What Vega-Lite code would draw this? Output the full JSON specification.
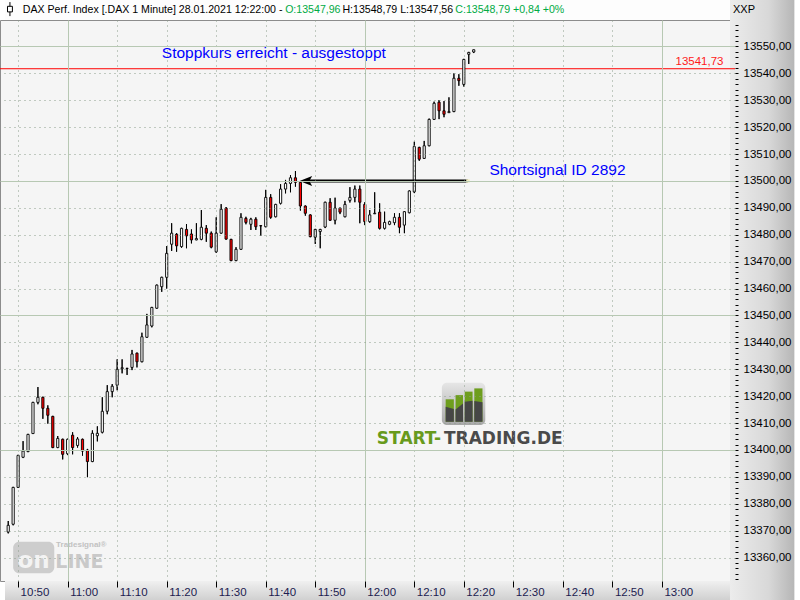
{
"$schema": "https://vega.github.io/schema/vega-lite/v6.json",
"width": 735, "height": 561,
"autosize": {"type": "none"},
"padding": {"left": 0, "top": 20, "right": 65, "bottom": 19},
"background": "#ffffff",
"config": {"view": {"fill": "#f5f5f5", "stroke": "#8c8c8c", "strokeWidth": 1}, "text": {"font": "Liberation Sans"}, "axis": {"labelFont": "Liberation Sans"}},
"datasets": {
"header": [{"t1": "2021-01-28T10:47:21", "t2": "2021-01-28T13:13:45", "v1": 13559.85, "v2": 13567.3}],
"rightcol": [{"t1": "2021-01-28T13:13:45", "t2": "2021-01-28T13:26:45", "v1": 13344.2, "v2": 13567.3}],
"bottomband": [{"t1": "2021-01-28T10:47:21", "t2": "2021-01-28T13:13:45", "v1": 13344.2, "v2": 13351.3}],
"stop": [{"v": 13541.73}],
"arrow": [{"t1": "2021-01-28T11:48:06", "t2": "2021-01-28T12:20:50", "v": 13500}],
"icon": [{"t1": "2021-01-28T12:15:34", "t2": "2021-01-28T12:24:20", "v1": 13409.29, "v2": 13425.02}],
"iconbars": [
  {"bar": 1, "t1": "2021-01-28T12:16:20", "t2": "2021-01-28T12:17:59", "v1": 13410.52, "v2": 13418.85},
  {"bar": 2, "t1": "2021-01-28T12:18:20", "t2": "2021-01-28T12:19:50", "v1": 13410.52, "v2": 13420.4},
  {"bar": 3, "t1": "2021-01-28T12:20:11", "t2": "2021-01-28T12:21:46", "v1": 13410.52, "v2": 13421.7},
  {"bar": 4, "t1": "2021-01-28T12:22:07", "t2": "2021-01-28T12:23:46", "v1": 13410.52, "v2": 13422.9}],
"icondark": [
  {"bar": 1, "t": "2021-01-28T12:16:20", "v": 13416.1, "b": 13410.52}, {"bar": 1, "t": "2021-01-28T12:17:59", "v": 13415.24, "b": 13410.52},
  {"bar": 2, "t": "2021-01-28T12:18:20", "v": 13415.06, "b": 13410.52}, {"bar": 2, "t": "2021-01-28T12:19:50", "v": 13417.25, "b": 13410.52},
  {"bar": 3, "t": "2021-01-28T12:20:11", "v": 13417.92, "b": 13410.52}, {"bar": 3, "t": "2021-01-28T12:21:46", "v": 13418.33, "b": 13410.52},
  {"bar": 4, "t": "2021-01-28T12:22:07", "v": 13418.25, "b": 13410.52}, {"bar": 4, "t": "2021-01-28T12:23:46", "v": 13417.73, "b": 13410.52}],
"badge": [{"t1": "2021-01-28T10:49:00", "t2": "2021-01-28T10:57:18", "v1": 13354.2, "v2": 13365.9}]
},
"data": {"values": [
{"t":"2021-01-28T10:48:00","o":13369.5,"h":13373.6,"l":13369.0,"c":13372.0},
{"t":"2021-01-28T10:49:00","o":13372.4,"h":13386.3,"l":13372.0,"c":13386.1},
{"t":"2021-01-28T10:50:00","o":13386.1,"h":13398.2,"l":13386.0,"c":13398.0},
{"t":"2021-01-28T10:51:00","o":13397.3,"h":13403.3,"l":13397.0,"c":13399.6},
{"t":"2021-01-28T10:52:00","o":13399.4,"h":13406.0,"l":13399.2,"c":13405.8},
{"t":"2021-01-28T10:53:00","o":13406.1,"h":13417.9,"l":13406.0,"c":13417.7},
{"t":"2021-01-28T10:54:00","o":13417.7,"h":13423.4,"l":13417.0,"c":13419.6},
{"t":"2021-01-28T10:55:00","o":13419.6,"h":13419.8,"l":13411.6,"c":13415.5},
{"t":"2021-01-28T10:56:00","o":13415.5,"h":13416.6,"l":13409.8,"c":13412.9},
{"t":"2021-01-28T10:57:00","o":13412.5,"h":13412.7,"l":13400.7,"c":13400.9},
{"t":"2021-01-28T10:58:00","o":13400.9,"h":13405.2,"l":13400.7,"c":13404.3},
{"t":"2021-01-28T10:59:00","o":13404.0,"h":13404.2,"l":13396.5,"c":13398.4},
{"t":"2021-01-28T11:00:00","o":13398.6,"h":13404.2,"l":13398.1,"c":13404.0},
{"t":"2021-01-28T11:01:00","o":13405.5,"h":13406.6,"l":13398.4,"c":13400.9},
{"t":"2021-01-28T11:02:00","o":13401.7,"h":13404.8,"l":13400.9,"c":13404.1},
{"t":"2021-01-28T11:03:00","o":13404.0,"h":13404.2,"l":13397.9,"c":13399.6},
{"t":"2021-01-28T11:04:00","o":13400.0,"h":13400.4,"l":13389.9,"c":13395.7},
{"t":"2021-01-28T11:05:00","o":13395.7,"h":13407.3,"l":13395.5,"c":13406.2},
{"t":"2021-01-28T11:06:00","o":13405.3,"h":13408.8,"l":13403.2,"c":13406.2},
{"t":"2021-01-28T11:07:00","o":13406.6,"h":13419.6,"l":13406.2,"c":13414.4},
{"t":"2021-01-28T11:08:00","o":13414.4,"h":13424.1,"l":13413.3,"c":13421.7},
{"t":"2021-01-28T11:09:00","o":13421.7,"h":13424.5,"l":13419.6,"c":13423.7},
{"t":"2021-01-28T11:10:00","o":13424.1,"h":13433.7,"l":13422.2,"c":13430.0},
{"t":"2021-01-28T11:11:00","o":13430.2,"h":13433.7,"l":13428.5,"c":13430.6},
{"t":"2021-01-28T11:12:00","o":13430.4,"h":13430.5,"l":13427.9,"c":13430.3},
{"t":"2021-01-28T11:13:00","o":13430.7,"h":13437.2,"l":13429.7,"c":13435.7},
{"t":"2021-01-28T11:14:00","o":13436.0,"h":13436.2,"l":13430.7,"c":13432.8},
{"t":"2021-01-28T11:15:00","o":13432.8,"h":13443.6,"l":13432.6,"c":13442.1},
{"t":"2021-01-28T11:16:00","o":13441.9,"h":13450.6,"l":13441.7,"c":13446.5},
{"t":"2021-01-28T11:17:00","o":13446.1,"h":13453.2,"l":13445.6,"c":13453.0},
{"t":"2021-01-28T11:18:00","o":13452.7,"h":13461.5,"l":13452.5,"c":13461.3},
{"t":"2021-01-28T11:19:00","o":13460.7,"h":13464.4,"l":13458.8,"c":13464.2},
{"t":"2021-01-28T11:20:00","o":13464.2,"h":13475.8,"l":13460.0,"c":13473.1},
{"t":"2021-01-28T11:21:00","o":13476.5,"h":13484.3,"l":13474.0,"c":13480.6},
{"t":"2021-01-28T11:22:00","o":13480.2,"h":13480.6,"l":13473.7,"c":13475.9},
{"t":"2021-01-28T11:23:00","o":13475.6,"h":13482.6,"l":13475.2,"c":13482.4},
{"t":"2021-01-28T11:24:00","o":13482.0,"h":13484.0,"l":13475.0,"c":13479.6},
{"t":"2021-01-28T11:25:00","o":13480.3,"h":13482.0,"l":13476.8,"c":13478.1},
{"t":"2021-01-28T11:26:00","o":13478.1,"h":13484.3,"l":13478.0,"c":13478.6},
{"t":"2021-01-28T11:27:00","o":13478.3,"h":13489.2,"l":13478.0,"c":13482.8},
{"t":"2021-01-28T11:28:00","o":13482.4,"h":13483.6,"l":13477.4,"c":13480.6},
{"t":"2021-01-28T11:29:00","o":13480.6,"h":13481.2,"l":13475.0,"c":13475.4},
{"t":"2021-01-28T11:30:00","o":13473.7,"h":13486.5,"l":13473.3,"c":13480.6},
{"t":"2021-01-28T11:31:00","o":13480.6,"h":13491.4,"l":13480.4,"c":13489.5},
{"t":"2021-01-28T11:32:00","o":13489.9,"h":13490.3,"l":13478.2,"c":13478.4},
{"t":"2021-01-28T11:33:00","o":13478.3,"h":13478.5,"l":13470.2,"c":13470.4},
{"t":"2021-01-28T11:34:00","o":13470.4,"h":13475.4,"l":13470.2,"c":13474.6},
{"t":"2021-01-28T11:35:00","o":13474.6,"h":13488.0,"l":13474.4,"c":13486.5},
{"t":"2021-01-28T11:36:00","o":13486.1,"h":13486.7,"l":13483.9,"c":13484.6},
{"t":"2021-01-28T11:37:00","o":13483.9,"h":13486.3,"l":13481.8,"c":13485.8},
{"t":"2021-01-28T11:38:00","o":13485.8,"h":13486.5,"l":13481.8,"c":13483.0},
{"t":"2021-01-28T11:39:00","o":13483.4,"h":13483.6,"l":13479.6,"c":13483.3},
{"t":"2021-01-28T11:40:00","o":13483.0,"h":13496.7,"l":13482.8,"c":13493.9},
{"t":"2021-01-28T11:41:00","o":13493.9,"h":13495.1,"l":13486.0,"c":13486.5},
{"t":"2021-01-28T11:42:00","o":13486.7,"h":13491.5,"l":13486.5,"c":13491.3},
{"t":"2021-01-28T11:43:00","o":13491.7,"h":13498.8,"l":13491.3,"c":13497.0},
{"t":"2021-01-28T11:44:00","o":13497.0,"h":13500.4,"l":13495.4,"c":13499.1},
{"t":"2021-01-28T11:45:00","o":13499.1,"h":13502.2,"l":13495.8,"c":13501.2},
{"t":"2021-01-28T11:46:00","o":13501.2,"h":13503.7,"l":13497.9,"c":13499.5},
{"t":"2021-01-28T11:47:00","o":13499.5,"h":13499.7,"l":13489.0,"c":13490.7},
{"t":"2021-01-28T11:48:00","o":13490.7,"h":13490.9,"l":13487.1,"c":13488.0},
{"t":"2021-01-28T11:49:00","o":13487.4,"h":13487.6,"l":13479.1,"c":13479.3},
{"t":"2021-01-28T11:50:00","o":13479.1,"h":13482.2,"l":13476.6,"c":13482.0},
{"t":"2021-01-28T11:51:00","o":13481.2,"h":13482.2,"l":13475.0,"c":13482.0},
{"t":"2021-01-28T11:52:00","o":13482.9,"h":13492.3,"l":13482.5,"c":13492.1},
{"t":"2021-01-28T11:53:00","o":13492.1,"h":13493.6,"l":13485.2,"c":13485.4},
{"t":"2021-01-28T11:54:00","o":13485.4,"h":13493.8,"l":13483.9,"c":13489.9},
{"t":"2021-01-28T11:55:00","o":13489.9,"h":13490.1,"l":13487.7,"c":13488.4},
{"t":"2021-01-28T11:56:00","o":13486.7,"h":13492.6,"l":13486.5,"c":13491.3},
{"t":"2021-01-28T11:57:00","o":13492.8,"h":13497.7,"l":13492.0,"c":13493.9},
{"t":"2021-01-28T11:58:00","o":13493.9,"h":13498.3,"l":13492.1,"c":13497.0},
{"t":"2021-01-28T11:59:00","o":13497.0,"h":13498.3,"l":13484.3,"c":13492.1},
{"t":"2021-01-28T12:00:00","o":13491.3,"h":13492.1,"l":13483.6,"c":13484.9},
{"t":"2021-01-28T12:01:00","o":13484.9,"h":13489.2,"l":13484.5,"c":13487.4},
{"t":"2021-01-28T12:02:00","o":13487.8,"h":13495.8,"l":13487.8,"c":13488.0},
{"t":"2021-01-28T12:03:00","o":13488.4,"h":13491.7,"l":13482.0,"c":13482.4},
{"t":"2021-01-28T12:04:00","o":13482.4,"h":13488.6,"l":13482.0,"c":13484.6},
{"t":"2021-01-28T12:05:00","o":13483.9,"h":13485.2,"l":13483.6,"c":13484.9},
{"t":"2021-01-28T12:06:00","o":13484.5,"h":13488.0,"l":13483.6,"c":13486.5},
{"t":"2021-01-28T12:07:00","o":13486.5,"h":13488.0,"l":13480.6,"c":13482.8},
{"t":"2021-01-28T12:08:00","o":13483.6,"h":13488.8,"l":13480.6,"c":13488.6},
{"t":"2021-01-28T12:09:00","o":13488.2,"h":13496.5,"l":13488.0,"c":13496.3},
{"t":"2021-01-28T12:10:00","o":13496.0,"h":13514.6,"l":13495.5,"c":13512.8},
{"t":"2021-01-28T12:11:00","o":13512.5,"h":13512.7,"l":13507.5,"c":13508.1},
{"t":"2021-01-28T12:12:00","o":13508.4,"h":13514.9,"l":13508.2,"c":13513.1},
{"t":"2021-01-28T12:13:00","o":13513.1,"h":13523.2,"l":13512.9,"c":13522.9},
{"t":"2021-01-28T12:14:00","o":13522.9,"h":13529.5,"l":13522.7,"c":13528.9},
{"t":"2021-01-28T12:15:00","o":13529.3,"h":13530.1,"l":13523.0,"c":13526.1},
{"t":"2021-01-28T12:16:00","o":13526.1,"h":13529.7,"l":13523.7,"c":13524.8},
{"t":"2021-01-28T12:17:00","o":13525.4,"h":13531.1,"l":13525.4,"c":13525.8},
{"t":"2021-01-28T12:18:00","o":13525.8,"h":13540.0,"l":13525.6,"c":13538.2},
{"t":"2021-01-28T12:19:00","o":13538.2,"h":13539.7,"l":13535.4,"c":13537.3},
{"t":"2021-01-28T12:20:00","o":13535.9,"h":13545.4,"l":13535.1,"c":13545.2},
{"t":"2021-01-28T12:21:00","o":13547.1,"h":13548.0,"l":13543.5,"c":13547.8},
{"t":"2021-01-28T12:22:00","o":13547.96,"h":13548.79,"l":13547.56,"c":13548.79}
]},
"layer": [
{"mark": {"type": "rule", "color": "#000000", "strokeWidth": 1},
 "encoding": {
  "x": {"field": "t", "type": "temporal",
   "scale": {"domain": [{"year":2021,"month":1,"date":28,"hours":10,"minutes":47,"seconds":21}, {"year":2021,"month":1,"date":28,"hours":13,"minutes":13,"seconds":45}], "nice": false},
   "axis": {"orient": "bottom", "title": null, "domain": false, "zindex": 1, "format": "%H:%M", "tickCount": 1000,
    "values": [{"year":2021,"month":1,"date":28,"hours":10,"minutes":50},{"year":2021,"month":1,"date":28,"hours":11,"minutes":0},{"year":2021,"month":1,"date":28,"hours":11,"minutes":10},{"year":2021,"month":1,"date":28,"hours":11,"minutes":20},{"year":2021,"month":1,"date":28,"hours":11,"minutes":30},{"year":2021,"month":1,"date":28,"hours":11,"minutes":40},{"year":2021,"month":1,"date":28,"hours":11,"minutes":50},{"year":2021,"month":1,"date":28,"hours":12,"minutes":0},{"year":2021,"month":1,"date":28,"hours":12,"minutes":10},{"year":2021,"month":1,"date":28,"hours":12,"minutes":20},{"year":2021,"month":1,"date":28,"hours":12,"minutes":30},{"year":2021,"month":1,"date":28,"hours":12,"minutes":40},{"year":2021,"month":1,"date":28,"hours":12,"minutes":50},{"year":2021,"month":1,"date":28,"hours":13,"minutes":0}],
    "labelAlign": "left", "labelOffset": 2, "labelBaseline": "middle", "labelPadding": 5, "labelFontSize": 11.5, "labelColor": "#1c1c50", "labelFlush": false, "labelOverlap": false,
    "tickColor": "#000000", "tickSize": 6, "tickWidth": 1,
    "grid": true,
    "gridColor": {"condition": {"test": "minutes(datum.value) === 0", "value": "#b7c8b3"}, "value": "#8a9c8a"},
    "gridDash": {"condition": {"test": "minutes(datum.value) === 0", "value": []}, "value": [1, 4]}}},
  "y": {"field": "l", "type": "quantitative",
   "scale": {"domain": [13351.3, 13559.85], "nice": false, "zero": false},
   "axis": {"orient": "right", "title": null, "domain": false, "zindex": 1, "tickCount": 1000,
    "values": [13352,13354,13356,13358,13360,13362,13364,13366,13368,13370,13372,13374,13376,13378,13380,13382,13384,13386,13388,13390,13392,13394,13396,13398,13400,13402,13404,13406,13408,13410,13412,13414,13416,13418,13420,13422,13424,13426,13428,13430,13432,13434,13436,13438,13440,13442,13444,13446,13448,13450,13452,13454,13456,13458,13460,13462,13464,13466,13468,13470,13472,13474,13476,13478,13480,13482,13484,13486,13488,13490,13492,13494,13496,13498,13500,13502,13504,13506,13508,13510,13512,13514,13516,13518,13520,13522,13524,13526,13528,13530,13532,13534,13536,13538,13540,13542,13544,13546,13548,13550,13552,13554,13556,13558],
    "labelExpr": "datum.value % 10 === 0 ? replace(format(datum.value, '.2f'), '.', ',') : ''",
    "labelFontSize": 11.5, "labelColor": "#000000", "labelPadding": 5, "labelOverlap": false, "labelFlush": false,
    "tickColor": "#000000", "tickWidth": 1, "tickSize": 3,
    "grid": true,
    "gridColor": {"condition": {"test": "datum.value % 50 === 0", "value": "#b7c8b3"}, "value": "#8a9c8a"},
    "gridDash": {"condition": {"test": "datum.value % 50 === 0", "value": []}, "value": [1, 4]},
    "gridOpacity": {"condition": {"test": "datum.value % 10 === 0", "value": 1}, "value": 0}}},
  "y2": {"field": "h"}}},
{"data": {"name": "header"}, "mark": {"type": "rect", "fill": "#fdfdfd"},
 "encoding": {"x": {"field": "t1", "type": "temporal"}, "x2": {"field": "t2"},
  "y": {"field": "v1", "type": "quantitative"}, "y2": {"field": "v2"}}},
{"data": {"name": "rightcol"}, "mark": {"type": "rect", "fill": {"gradient": "linear", "x1": 0, "y1": 0, "x2": 1, "y2": 0, "stops": [{"offset": 0, "color": "#ececec"}, {"offset": 0.6, "color": "#d8d8d8"}, {"offset": 1, "color": "#b6b6b6"}]}},
 "encoding": {"x": {"field": "t1", "type": "temporal"}, "x2": {"field": "t2"},
  "y": {"field": "v1", "type": "quantitative"}, "y2": {"field": "v2"}}},
{"data": {"name": "bottomband"}, "mark": {"type": "rect", "fill": {"gradient": "linear", "x1": 0, "y1": 0, "x2": 0, "y2": 1, "stops": [{"offset": 0, "color": "#f0f0f0"}, {"offset": 1, "color": "#d0d0d0"}]}},
 "encoding": {"x": {"field": "t1", "type": "temporal"}, "x2": {"field": "t2"},
  "y": {"field": "v1", "type": "quantitative"}, "y2": {"field": "v2"}}},
{"data": {"name": "stop"}, "mark": {"type": "rule", "color": "#ff0000", "strokeWidth": 1},
 "encoding": {"y": {"field": "v", "type": "quantitative"}}},
{"mark": {"type": "rule", "color": "#000000", "strokeWidth": 1},
 "encoding": {"x": {"field": "t", "type": "temporal"}, "y": {"field": "l", "type": "quantitative"}, "y2": {"field": "h"}}},
{"mark": {"type": "bar", "width": 2.2, "stroke": "#000000", "strokeWidth": 0.9},
 "encoding": {
  "x": {"field": "t", "type": "temporal"},
  "y": {"field": "o", "type": "quantitative"},
  "y2": {"field": "c"},
  "fill": {"condition": {"test": "datum.c < datum.o", "value": "#ff0000"}, "value": "#ffffff"}}},
{"data": {"name": "arrow"}, "mark": {"type": "rule", "color": "#000000", "strokeWidth": 3},
 "encoding": {"x": {"field": "t1", "type": "temporal"}, "x2": {"field": "t2"},
  "y": {"field": "v", "type": "quantitative"}}},
{"data": {"name": "arrow"}, "mark": {"type": "point", "shape": "M-1,0L1,-0.8L0.55,0L1,0.8Z", "filled": true, "fill": "#000000", "opacity": 1, "size": 160, "strokeWidth": 0},
 "encoding": {"x": {"field": "t1", "type": "temporal"},
  "y": {"field": "v", "type": "quantitative"}}},
{"data": {"name": "arrow"}, "mark": {"type": "point", "shape": "square", "filled": true, "fill": "#f2efc4", "opacity": 1, "size": 12, "strokeWidth": 0},
 "encoding": {"x": {"field": "t2", "type": "temporal"},
  "y": {"field": "v", "type": "quantitative"}}},
{"data": {"values": [{}]}, "mark": {"type": "text", "align": "left", "baseline": "middle", "fontSize": 15.5, "color": "#0000ff"},
 "encoding": {"x": {"datum": {"year":2021,"month":1,"date":28,"hours":11,"minutes":19,"seconds":1}, "type": "temporal"},
  "y": {"datum": 13547.6, "type": "quantitative"}, "text": {"value": "Stoppkurs erreicht - ausgestoppt"}}},
{"data": {"values": [{}]}, "mark": {"type": "text", "align": "left", "baseline": "middle", "fontSize": 15.5, "color": "#0000ff"},
 "encoding": {"x": {"datum": {"year":2021,"month":1,"date":28,"hours":12,"minutes":25,"seconds":10}, "type": "temporal"},
  "y": {"datum": 13504.1, "type": "quantitative"}, "text": {"value": "Shortsignal ID 2892"}}},
{"data": {"values": [{}]}, "mark": {"type": "text", "align": "left", "baseline": "middle", "fontSize": 11.5, "color": "#ff1a1a"},
 "encoding": {"x": {"datum": {"year":2021,"month":1,"date":28,"hours":13,"minutes":2,"seconds":45}, "type": "temporal"},
  "y": {"datum": 13544.4, "type": "quantitative"}, "text": {"value": "13541,73"}}},
{"data": {"values": [{}]}, "mark": {"type": "text", "align": "left", "baseline": "middle", "fontSize": 11, "color": "#000000"},
 "encoding": {"x": {"datum": {"year":2021,"month":1,"date":28,"hours":13,"minutes":14,"seconds":21}, "type": "temporal"},
  "y": {"datum": 13563.6, "type": "quantitative"}, "text": {"value": "XXP"}}},
{"data": {"values": [{}]}, "mark": {"type": "point", "shape": "M0,-1L0,-0.4M-0.35,-0.4L0.35,-0.4L0.35,0.4L-0.35,0.4ZM0,0.4L0,1", "filled": false, "stroke": "#000000", "strokeWidth": 1, "opacity": 1, "size": 196},
 "encoding": {"x": {"datum": {"year":2021,"month":1,"date":28,"hours":10,"minutes":48,"seconds":21}, "type": "temporal"},
  "y": {"datum": 13563.9, "type": "quantitative"}}},
{"data": {"values": [{}]}, "mark": {"type": "text", "align": "left", "baseline": "middle", "fontSize": 10.6, "color": "#000000"},
 "encoding": {"x": {"datum": {"year":2021,"month":1,"date":28,"hours":10,"minutes":50,"seconds":56}, "type": "temporal"},
  "y": {"datum": 13563.6, "type": "quantitative"}, "text": {"value": "DAX Perf. Index [.DAX  1 Minute] 28.01.2021 12:22:00 -"}}},
{"data": {"values": [{}]}, "mark": {"type": "text", "align": "left", "baseline": "middle", "fontSize": 10.6, "color": "#00aa44"},
 "encoding": {"x": {"datum": {"year":2021,"month":1,"date":28,"hours":11,"minutes":43,"seconds":55}, "type": "temporal"},
  "y": {"datum": 13563.6, "type": "quantitative"}, "text": {"value": "O:13547,96"}}},
{"data": {"values": [{}]}, "mark": {"type": "text", "align": "left", "baseline": "middle", "fontSize": 10.6, "color": "#000000"},
 "encoding": {"x": {"datum": {"year":2021,"month":1,"date":28,"hours":11,"minutes":55,"seconds":29}, "type": "temporal"},
  "y": {"datum": 13563.6, "type": "quantitative"}, "text": {"value": "H:13548,79 L:13547,56"}}},
{"data": {"values": [{}]}, "mark": {"type": "text", "align": "left", "baseline": "middle", "fontSize": 10.6, "color": "#00aa44"},
 "encoding": {"x": {"datum": {"year":2021,"month":1,"date":28,"hours":12,"minutes":18,"seconds":17}, "type": "temporal"},
  "y": {"datum": 13563.6, "type": "quantitative"}, "text": {"value": "C:13548,79 +0,84 +0%"}}},
{"data": {"name": "icon"}, "mark": {"type": "rect", "cornerRadius": 5, "fill": {"gradient": "linear", "x1": 0, "y1": 0, "x2": 0, "y2": 1, "stops": [{"offset": 0, "color": "#e6e6e6"}, {"offset": 1, "color": "#a8a8a8"}]}},
 "encoding": {"x": {"field": "t1", "type": "temporal"}, "x2": {"field": "t2"},
  "y": {"field": "v1", "type": "quantitative"}, "y2": {"field": "v2"}}},
{"data": {"name": "iconbars"}, "mark": {"type": "rect", "fill": "#6e9e1e"},
 "encoding": {"x": {"field": "t1", "type": "temporal"}, "x2": {"field": "t2"},
  "y": {"field": "v1", "type": "quantitative"}, "y2": {"field": "v2"}}},
{"data": {"name": "icondark"}, "mark": {"type": "area", "fill": "#464646", "opacity": 1},
 "encoding": {"x": {"field": "t", "type": "temporal"},
  "y": {"field": "v", "type": "quantitative"}, "y2": {"field": "b"},
  "detail": {"field": "bar", "type": "nominal"}}},
{"data": {"values": [{}]}, "mark": {"type": "text", "align": "right", "baseline": "middle", "font": "DejaVu Sans", "fontWeight": "bold", "fontSize": 17, "color": "#689a1c"},
 "encoding": {"x": {"datum": {"year":2021,"month":1,"date":28,"hours":12,"minutes":15,"seconds":24}, "type": "temporal"},
  "y": {"datum": 13404, "type": "quantitative"}, "text": {"value": "START-"}}},
{"data": {"values": [{}]}, "mark": {"type": "text", "align": "left", "baseline": "middle", "font": "DejaVu Sans", "fontWeight": "bold", "fontSize": 17, "color": "#4a4a4a"},
 "encoding": {"x": {"datum": {"year":2021,"month":1,"date":28,"hours":12,"minutes":16,"seconds":0}, "type": "temporal"},
  "y": {"datum": 13404, "type": "quantitative"}, "text": {"value": "TRADING.DE"}}},
{"data": {"name": "badge"}, "mark": {"type": "rect", "cornerRadius": 6, "fill": "#cdcdcd"},
 "encoding": {"x": {"field": "t1", "type": "temporal"}, "x2": {"field": "t2"},
  "y": {"field": "v1", "type": "quantitative"}, "y2": {"field": "v2"}}},
{"data": {"values": [{}]}, "mark": {"type": "text", "align": "center", "baseline": "alphabetic", "font": "DejaVu Sans", "fontWeight": "bold", "fontSize": 23, "color": "#f3f3f3"},
 "encoding": {"x": {"datum": {"year":2021,"month":1,"date":28,"hours":10,"minutes":53,"seconds":8}, "type": "temporal"},
  "y": {"datum": 13356.1, "type": "quantitative"}, "text": {"value": "on"}}},
{"data": {"values": [{}]}, "mark": {"type": "text", "align": "left", "baseline": "alphabetic", "font": "DejaVu Sans", "fontWeight": "bold", "fontSize": 19, "color": "#c9c9c9"},
 "encoding": {"x": {"datum": {"year":2021,"month":1,"date":28,"hours":10,"minutes":57,"seconds":31}, "type": "temporal"},
  "y": {"datum": 13356.1, "type": "quantitative"}, "text": {"value": "LINE"}}},
{"data": {"values": [{}]}, "mark": {"type": "text", "align": "left", "baseline": "middle", "fontWeight": "bold", "fontSize": 8, "color": "#c2c2c2"},
 "encoding": {"x": {"datum": {"year":2021,"month":1,"date":28,"hours":10,"minutes":57,"seconds":40}, "type": "temporal"},
  "y": {"datum": 13364.6, "type": "quantitative"}, "text": {"value": "Tradesignal®"}}}
]
}
